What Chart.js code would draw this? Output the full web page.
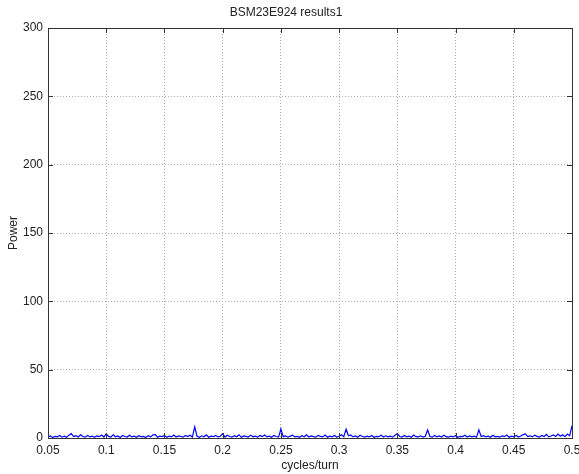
<!DOCTYPE html>
<html><head><meta charset="utf-8">
<script src="https://cdn.jsdelivr.net/npm/chart.js@4"></script>
<style>html,body{margin:0;padding:0;background:#fff}#wrap{width:579px;height:474px}</style>
</head><body><div id="wrap"><canvas id="c" width="579" height="474"></canvas></div>
<script>
const chartTitle = 'BSM23E924 results1';
const xLabel = 'cycles/turn';
const yLabel = 'Power';
const freqStart = 0.05;
const freqStep = 0.002;
const powerValues = [
0.8,1.5,0.4,1.2,0.9,1.8,0.6,1.3,0.5,2.1, 3.2,1.0,1.7,0.7,2.4,1.1,0.6,1.9,0.8,1.4,
0.5,1.6,1.0,2.2,0.7,3.0,1.2,0.6,2.3,0.9, 1.5,0.4,1.8,1.1,0.7,2.0,0.8,1.3,0.5,1.7,
0.9,1.2,0.4,1.6,0.8,2.1,2.6,0.6,1.4,1.0, 1.9,0.5,1.3,0.8,2.2,0.7,1.5,1.1,0.6,1.8,
1.0,2.0,0.7,8.1,1.2,0.5,1.6,0.9,2.3,0.6, 1.4,1.0,1.9,0.8,1.3,3.1,0.7,2.0,1.1,0.6,
1.7,0.9,2.4,0.5,1.5,1.2,0.7,2.1,0.9,1.4, 0.6,1.8,1.0,2.2,0.8,1.3,0.5,1.9,1.1,0.7,
6.6,1.0,1.6,0.6,1.4,2.0,0.8,1.2,0.5,1.7, 0.9,2.3,0.7,1.5,1.0,0.6,1.8,1.2,0.8,2.1,
0.6,1.4,0.9,1.9,0.7,1.3,2.4,1.0,6.4,1.6, 2.2,0.8,1.5,0.6,2.0,1.1,0.7,1.4,0.9,1.8,
0.5,1.2,1.0,2.1,0.7,1.6,0.8,1.3,0.6,2.0, 3.2,1.1,0.7,1.8,0.9,1.4,0.5,2.2,1.0,0.8,
1.6,0.7,1.3,5.9,1.1,0.6,1.9,0.9,1.5,0.7, 2.1,1.0,0.6,1.4,0.8,1.8,0.5,1.2,1.0,2.0,
0.7,1.5,0.9,1.3,0.6,6.0,1.1,1.7,0.8,1.4, 0.5,2.0,0.9,1.2,0.7,1.6,1.0,2.2,0.6,1.3,
0.9,1.8,0.7,1.4,2.5,3.0,1.0,1.6,0.8,2.1, 1.2,0.6,1.9,1.0,2.6,0.8,1.5,2.3,1.1,2.8,
1.3,2.4,1.0,2.9,1.6,9.0
];
const xTicks = [0.05,0.1,0.15,0.2,0.25,0.3,0.35,0.4,0.45,0.5];
const yTicks = [0,50,100,150,200,250,300];

const points = powerValues.map((v, i) => ({x: freqStart + i * freqStep, y: v}));
const textColor = '#222';
const font = {family: '"Liberation Sans", Arial, sans-serif', size: 12};

const matlabBox = {
  id: 'matlabBox',
  beforeDraw(chart) {
    const ctx = chart.ctx;
    ctx.save(); ctx.fillStyle = '#fff'; ctx.fillRect(0, 0, chart.width, chart.height); ctx.restore();
  },
  afterDraw(chart) {
    const {ctx, chartArea: a, scales} = chart;
    ctx.save();
    ctx.strokeStyle = '#333';
    ctx.lineWidth = 1;
    ctx.strokeRect(Math.round(a.left) + 0.5, Math.round(a.top) + 0.5, Math.round(a.right - a.left), Math.round(a.bottom - a.top));
    ctx.beginPath();
    const tl = 5;
    xTicks.forEach(v => {
      const px = Math.round(scales.x.getPixelForValue(v)) + 0.5;
      ctx.moveTo(px, a.bottom); ctx.lineTo(px, a.bottom - tl);
      ctx.moveTo(px, a.top); ctx.lineTo(px, a.top + tl);
    });
    yTicks.forEach(v => {
      const py = Math.round(scales.y.getPixelForValue(v)) + 0.5;
      ctx.moveTo(a.left, py); ctx.lineTo(a.left + tl, py);
      ctx.moveTo(a.right, py); ctx.lineTo(a.right - tl, py);
    });
    ctx.stroke();
    ctx.restore();
  }
};

new Chart(document.getElementById('c'), {
  type: 'line',
  data: {datasets: [{data: points, borderColor: '#0000ff', borderWidth: 1.2, pointRadius: 0, tension: 0, fill: false}]},
  options: {
    responsive: false,
    animation: false,
    layout: {padding: {left: 0, right: 7, top: 0, bottom: 0}},
    plugins: {
      legend: {display: false},
      tooltip: {enabled: false},
      title: {display: true, text: chartTitle, color: textColor, font: {...font, weight: 'normal'}, padding: {top: 5, bottom: 8.6}}
    },
    scales: {
      x: {
        type: 'linear', min: 0.05, max: 0.5,
        afterBuildTicks: s => { s.ticks = xTicks.map(v => ({value: v})); },
        afterFit: s => { s.height = 36; s.paddingRight = 0; s.paddingLeft = 0; },
        grid: {color: '#aaa', lineWidth: 1, drawTicks: false},
        border: {display: false, dash: [1, 2]},
        ticks: {color: textColor, font, padding: 5, maxRotation: 0, autoSkip: false,
          callback: v => String(+Number(v).toFixed(2))},
        title: {display: true, text: xLabel, color: textColor, font, padding: {top: 0, bottom: 1}}
      },
      y: {
        min: 0, max: 300,
        afterBuildTicks: s => { s.ticks = yTicks.map(v => ({value: v})); },
        afterFit: s => { s.width = 48; },
        grid: {color: '#aaa', lineWidth: 1, drawTicks: false},
        border: {display: false, dash: [1, 2]},
        ticks: {color: textColor, font, padding: 5, autoSkip: false},
        title: {display: true, text: yLabel, color: textColor, font, padding: {top: 6, bottom: 0}}
      }
    }
  },
  plugins: [matlabBox]
});
</script>
</body></html>
